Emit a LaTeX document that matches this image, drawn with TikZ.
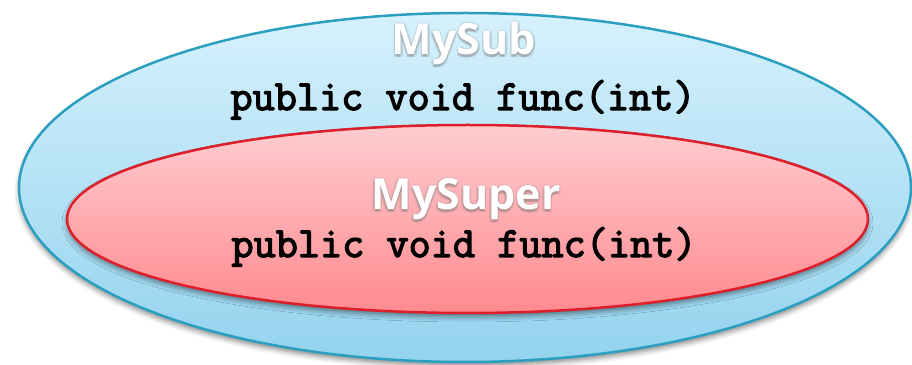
\documentclass[tikz,border=0pt]{standalone}
\usepackage{fontspec}
\newfontfamily\titlefont{Open Sans}
\newfontfamily\codefont[FakeBold=3]{Latin Modern Mono}
\usetikzlibrary{calc,shapes.geometric,shadows.blur}

\definecolor{subtop}{HTML}{D6F1FD}
\definecolor{subbot}{HTML}{93D3EE}
\definecolor{subline}{HTML}{2B9FBF}
\definecolor{suptop}{HTML}{FFCDD0}
\definecolor{supbot}{HTML}{FF8A8F}
\definecolor{supline}{HTML}{DD1F2B}

\tikzset{
  classbox/.style={blur shadow={shadow xshift=0pt, shadow yshift=-4pt,
      shadow blur radius=5pt, shadow opacity=45}, line width=2.5pt},
  subclass/.style={classbox, draw=subline, top color=subtop, bottom color=subbot},
  superclass/.style={classbox, draw=supline, top color=suptop, bottom color=supbot},
  codeline/.style={anchor=base, inner sep=0pt, font=\fontsize{43}{45}\selectfont\codefont},
  titleshade/.style={anchor=base, inner sep=0pt, text=black!55, opacity=0.16,
      font=\fontsize{43}{46}\selectfont\titlefont\bfseries},
  titletext/.style={anchor=base, inner sep=0pt, text=white,
      font=\fontsize{43}{46}\selectfont\titlefont\bfseries},
}

% soft grey halo behind a white title
\newcommand{\haloTitle}[3]{%
  \foreach \dx/\dy in {-1.5/0,1.5/0,0/1.5,0/-2,1.5/-2.5,-1.5/-2.5,0/-3}
    \node[titleshade] at ($(#1,#2)+(\dx,\dy)$) {#3};
  \node[titletext] (#3) at (#1,#2) {#3};
}

\begin{document}
\begin{tikzpicture}[x=1pt,y=1pt]
  \useasboundingbox (0,0) rectangle (912,364);
  \clip (0,0) rectangle (912,364);

  % outer class
  \path[subclass] (465,176.5) ellipse [x radius=446, y radius=174.5];

  % inner class
  \path[superclass] (467.5,145) ellipse [x radius=400.5, y radius=94];

  % labels
  \haloTitle{464}{309}{MySub}
  \node[codeline] (subcode) at (463,254) {public void func(int)};

  \haloTitle{466}{154}{MySuper}
  \node[codeline] (supcode) at (464,107) {public void func(int)};
\end{tikzpicture}
\end{document}
